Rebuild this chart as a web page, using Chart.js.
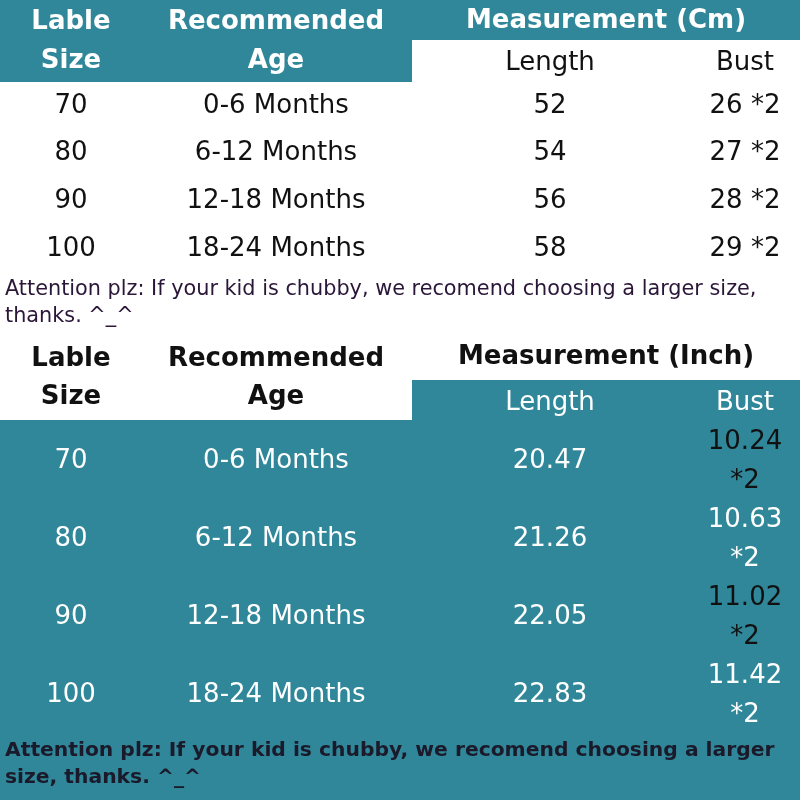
<!DOCTYPE html>
<html>
<head>
<meta charset="utf-8">
<script src="https://cdn.jsdelivr.net/npm/chart.js@4"></script>
<style>
  html, body { margin: 0; padding: 0; background: #fff; }
  #wrap { width: 800px; height: 800px; }
</style>
</head>
<body>
<div id="wrap"><canvas id="sizeChart" width="800" height="800"></canvas></div>
<script>
// table data
const sizes = ["70", "80", "90", "100"];
const ages = ["0-6 Months", "6-12 Months", "12-18 Months", "18-24 Months"];
const lengthCm = ["52", "54", "56", "58"];
const bustCm = ["26 *2", "27 *2", "28 *2", "29 *2"];
const lengthIn = ["20.47", "21.26", "22.05", "22.83"];
const bustIn = ["10.24", "10.63", "11.02", "11.42"];
const note = ["Attention plz: If your kid is chubby, we recomend choosing a larger size,", "thanks. ^_^"];
const noteBold = ["Attention plz: If your kid is chubby, we recomend choosing a larger", "size, thanks. ^_^"];

const TEAL = "#31879a";
const colX = [71, 276, 550, 745];
const F = "'DejaVu Sans', Verdana, sans-serif";

const tablePlugin = {
  id: "tablePlugin",
  beforeDraw(chart) {
    const { ctx, scales: { x, y } } = chart;
    const px = v => x.getPixelForValue(v), py = v => y.getPixelForValue(v);
    const rect = (x0, y0, x1, y1, c) => {
      ctx.fillStyle = c;
      ctx.fillRect(px(x0), py(y0), px(x1) - px(x0), py(y1) - py(y0));
    };
    const text = (s, cx, cy, font, color, align) => {
      ctx.font = font; ctx.fillStyle = color;
      ctx.textAlign = align || "center"; ctx.textBaseline = "middle";
      ctx.fillText(s, px(cx), py(cy));
    };
    ctx.save();
    rect(0, 0, 800, 800, "#fff");
    // top block headers
    rect(0, 0, 412, 82, TEAL);
    rect(412, 0, 800, 40, TEAL);
    const hb = "bold 26px " + F, rg = "26px " + F;
    text("Lable", colX[0], 22, hb, "#fff");
    text("Size", colX[0], 61, hb, "#fff");
    text("Recommended", colX[1], 22, hb, "#fff");
    text("Age", colX[1], 61, hb, "#fff");
    text("Measurement (Cm)", 606, 21, hb, "#fff");
    text("Length", colX[2], 63, rg, "#111");
    text("Bust", colX[3], 63, rg, "#111");
    sizes.forEach((s, i) => {
      const cy = 106 + i * 47.7;
      text(s, colX[0], cy, rg, "#111");
      text(ages[i], colX[1], cy, rg, "#111");
      text(lengthCm[i], colX[2], cy, rg, "#111");
      text(bustCm[i], colX[3], cy, rg, "#111");
    });
    text(note[0], 5, 290, "20.8px " + F, "#2a1638", "left");
    text(note[1], 5, 317, "20.8px " + F, "#2a1638", "left");
    // bottom block
    rect(412, 380, 800, 420, TEAL);
    rect(0, 420, 800, 800, TEAL);
    text("Lable", colX[0], 359, hb, "#111");
    text("Size", colX[0], 397, hb, "#111");
    text("Recommended", colX[1], 359, hb, "#111");
    text("Age", colX[1], 397, hb, "#111");
    text("Measurement (Inch)", 606, 357, hb, "#111");
    text("Length", colX[2], 403, rg, "#fff");
    text("Bust", colX[3], 403, rg, "#fff");
    sizes.forEach((s, i) => {
      const cy = 461 + i * 78;
      text(s, colX[0], cy, rg, "#fff");
      text(ages[i], colX[1], cy, rg, "#fff");
      text(lengthIn[i], colX[2], cy, rg, "#fff");
      const bc = i % 2 === 0 ? "#111" : "#fff";
      text(bustIn[i], colX[3], cy - 19, rg, bc);
      text("*2", colX[3], cy + 20, rg, bc);
    });
    text(noteBold[0], 5, 751, "bold 20.3px " + F, "#1a1a2a", "left");
    text(noteBold[1], 5, 778, "bold 20.3px " + F, "#1a1a2a", "left");
    ctx.restore();
  }
};

new Chart(document.getElementById("sizeChart"), {
  type: "scatter",
  data: { datasets: [{ data: [] }] },
  options: {
    responsive: false,
    animation: false,
    layout: { padding: 0 },
    plugins: { legend: { display: false }, tooltip: { enabled: false } },
    scales: {
      x: { type: "linear", min: 0, max: 800, display: false },
      y: { type: "linear", min: 0, max: 800, reverse: true, display: false }
    }
  },
  plugins: [tablePlugin]
});
</script>
</body>
</html>
